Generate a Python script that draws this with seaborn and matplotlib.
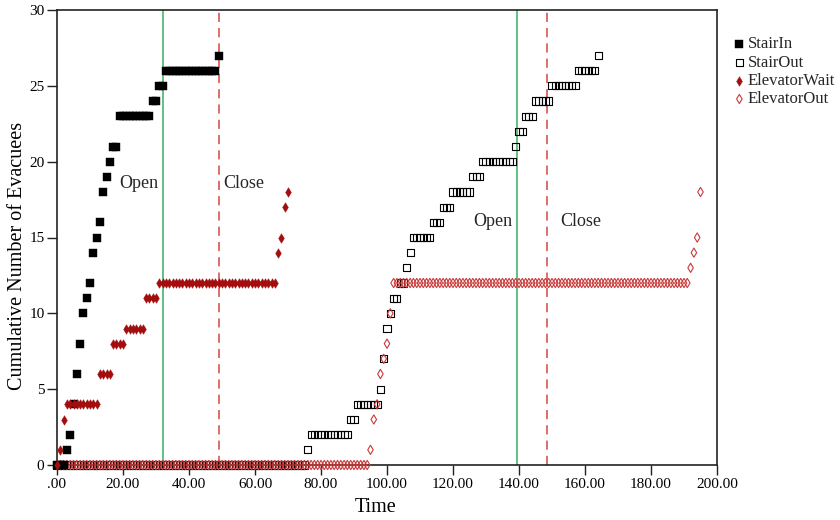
import numpy as np
import pandas as pd
import matplotlib
matplotlib.use("Agg")
import matplotlib.pyplot as plt
import seaborn as sns

# Cumulative evacuee counts, one sample per second.
# Each series is stored as runs: a level held from first_s to last_s (inclusive).
stair_in_levels = [0, 1, 2, 4, 6, 8, 10, 11, 12, 14, 15, 16, 18, 19, 20, 21, 23, 24, 25, 26, 27]
stair_in_first = [0, 3, 4, 5, 6, 7, 8, 9, 10, 11, 12, 13, 14, 15, 16, 17, 19, 29, 31, 33, 49]
stair_in_last = [2, 3, 4, 5, 6, 7, 8, 9, 10, 11, 12, 13, 14, 15, 16, 18, 28, 30, 32, 48, 49]

stair_out_levels = [0, 1, 2, 3, 4, 5, 7, 9, 10, 11, 12, 13, 14, 15, 16, 17, 18, 19, 20,
                    21, 22, 23, 24, 25, 26, 27]
stair_out_first = [0, 76, 77, 89, 91, 98, 99, 100, 101, 102, 104, 106, 107, 108, 114, 117,
                   120, 126, 129, 139, 140, 142, 145, 150, 158, 164]
stair_out_last = [75, 76, 88, 90, 97, 98, 99, 100, 101, 103, 105, 106, 107, 113, 116, 119,
                  125, 128, 138, 139, 141, 144, 149, 157, 163, 164]

elev_wait_levels = [0, 1, 3, 4, 6, 8, 9, 11, 12, 14, 15, 17, 18]
elev_wait_first = [0, 1, 2, 3, 13, 17, 21, 27, 31, 67, 68, 69, 70]
elev_wait_last = [0, 1, 2, 12, 16, 20, 26, 30, 66, 67, 68, 69, 70]

elev_out_levels = [0, 1, 3, 4, 6, 7, 8, 10, 12, 13, 14, 15, 18]
elev_out_first = [0, 95, 96, 97, 98, 99, 100, 101, 102, 192, 193, 194, 195]
elev_out_last = [94, 95, 96, 97, 98, 99, 100, 101, 191, 192, 193, 194, 195]

# Elevator door events
door_open = [32, 139.5]
door_close = [49, 148.5]

x_ticks = [0, 20, 40, 60, 80, 100, 120, 140, 160, 180, 200]
x_tick_labels = [".00", "20.00", "40.00", "60.00", "80.00", "100.00",
                 "120.00", "140.00", "160.00", "180.00", "200.00"]
y_ticks = [0, 5, 10, 15, 20, 25, 30]


def runs_to_frame(levels, first, last, name):
    t, v = [], []
    for lvl, a, b in zip(levels, first, last):
        for s in range(a, b + 1):
            t.append(s)
            v.append(lvl)
    return pd.DataFrame({"Time": t, "Count": v, "Series": name})


stair_in = runs_to_frame(stair_in_levels, stair_in_first, stair_in_last, "StairIn")
stair_out = runs_to_frame(stair_out_levels, stair_out_first, stair_out_last, "StairOut")
elev_wait = runs_to_frame(elev_wait_levels, elev_wait_first, elev_wait_last, "ElevatorWait")
elev_out = runs_to_frame(elev_out_levels, elev_out_first, elev_out_last, "ElevatorOut")

sns.set_theme(style="white")
plt.rcParams["font.family"] = ["Liberation Serif", "DejaVu Serif"]

fig = plt.figure(figsize=(8.4, 5.2), dpi=100)
ax = fig.add_axes([57 / 840, 1 - 465 / 520, 660 / 840, 455 / 520])

dark_red = "#a30d0d"
light_red = "#c93a3a"

sns.scatterplot(data=stair_out, x="Time", y="Count", marker="s", s=26,
                facecolor="none", edgecolor="black", linewidth=0.8,
                label="StairOut", ax=ax, clip_on=False, zorder=3)
sns.scatterplot(data=elev_out, x="Time", y="Count", marker="d", s=22,
                facecolor="none", edgecolor=light_red, linewidth=0.8,
                label="ElevatorOut", ax=ax, clip_on=False, zorder=4)
sns.scatterplot(data=stair_in, x="Time", y="Count", marker="s", s=30,
                facecolor="black", edgecolor="black", linewidth=0.3,
                label="StairIn", ax=ax, clip_on=False, zorder=5)
sns.scatterplot(data=elev_wait, x="Time", y="Count", marker="d", s=24,
                facecolor=dark_red, edgecolor=dark_red, linewidth=0.3,
                label="ElevatorWait", ax=ax, clip_on=False, zorder=6)

for t in door_open:
    ax.axvline(t, color="#35b060", linewidth=1.1, zorder=2)
for t in door_close:
    ax.axvline(t, color="#d04848", linewidth=1.1, linestyle=(0, (6, 4)), zorder=2)

ax.text(19, 18.55, "Open", fontsize=13, va="center", ha="left")
ax.text(50.5, 18.55, "Close", fontsize=13, va="center", ha="left")
ax.text(126, 16.05, "Open", fontsize=13, va="center", ha="left")
ax.text(152.5, 16.05, "Close", fontsize=13, va="center", ha="left")

ax.set_xlim(0, 200)
ax.set_ylim(0, 30)
ax.set_xticks(x_ticks)
ax.set_xticklabels(x_tick_labels)
ax.set_yticks(y_ticks)
ax.tick_params(axis="both", which="both", direction="out", length=7, width=1.0,
               color="#222222", labelsize=11, pad=2, labelcolor="black",
               bottom=True, left=True, top=False, right=False)
for sp in ax.spines.values():
    sp.set_color("#222222")
    sp.set_linewidth(1.2)

ax.set_xlabel("Time", fontsize=14.5, color="black")
ax.set_ylabel("Cumulative Number of Evacuees", fontsize=14.5, color="black")
ax.xaxis.set_label_coords(0.482, -0.072)
ax.yaxis.set_label_coords(-0.046, 0.46)

# Legend order and placement to the right of the plot box
handles, labels = ax.get_legend_handles_labels()
order = ["StairIn", "StairOut", "ElevatorWait", "ElevatorOut"]
hmap = dict(zip(labels, handles))
ax.legend([hmap[k] for k in order], order, loc="upper left",
          bbox_to_anchor=(726 / 840, 1 - 28 / 520), bbox_transform=fig.transFigure,
          frameon=False, fontsize=12, handlelength=0.6, handletextpad=0.2,
          labelspacing=0.14, borderpad=0, scatterpoints=1)

fig.savefig("out.png", dpi=100)
